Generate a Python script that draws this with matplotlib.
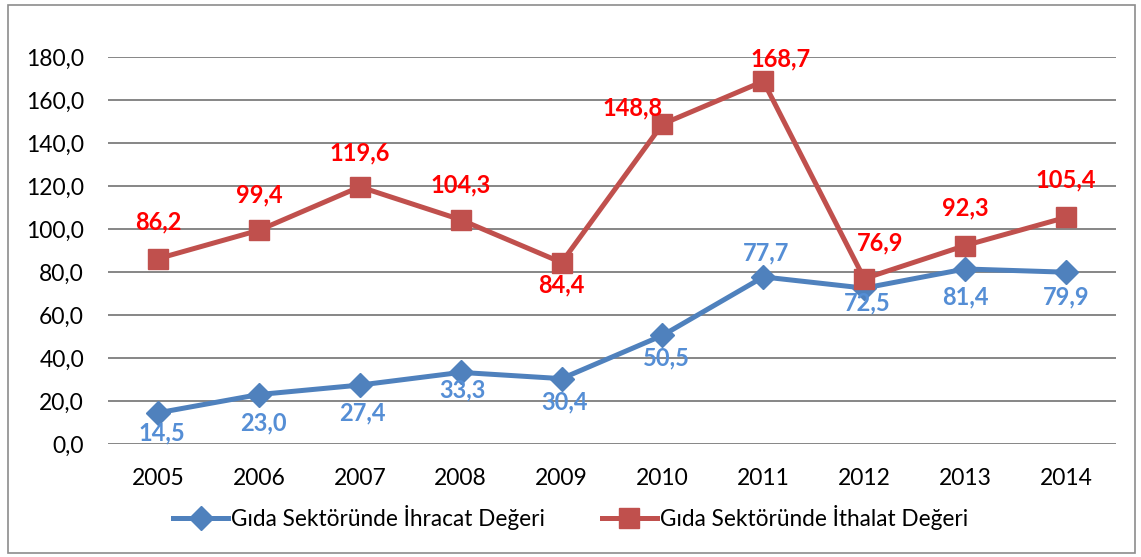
import matplotlib
matplotlib.use("Agg")
import matplotlib.pyplot as plt
from matplotlib.patches import Rectangle

# --- data ---------------------------------------------------------------
years = ["2005", "2006", "2007", "2008", "2009", "2010", "2011", "2012", "2013", "2014"]
ihracat = [14.5, 23.0, 27.4, 33.3, 30.4, 50.5, 77.7, 72.5, 81.4, 79.9]
ithalat = [86.2, 99.4, 119.6, 104.3, 84.4, 148.8, 168.7, 76.9, 92.3, 105.4]
y_ticks = [0, 20, 40, 60, 80, 100, 120, 140, 160, 180]

# label offsets in pixels (dx, dy)
ihr_off = [(4, -20), (5, -28), (3, -28), (2, -18), (3, -23),
           (4, -23), (3, 24), (3, -15), (0, -28), (0, -25)]
ith_off = [(0, 37), (0, 35), (0, 34), (0, 35), (0, -22),
           (-30, 16), (17, 22), (16, 36), (0, 38), (0, 37)]

BLUE, RED = "#4F81BD", "#C0504D"
BLUE_TXT, RED_TXT = "#558ED5", "#FF0000"

plt.rcParams["font.family"] = ["Lato", "DejaVu Sans"]

fig = plt.figure(figsize=(11.41, 5.57), dpi=100)
ax = fig.add_axes([0.0943, 0.2029, 0.8842, 0.6948])

x = range(len(years))
ax.plot(x, ihracat, color=BLUE, lw=3.6, marker="D", ms=12, label="Gıda Sektöründe İhracat Değeri",
        solid_joinstyle="round", zorder=3)
ax.plot(x, ithalat, color=RED, lw=3.6, marker="s", ms=14, label="Gıda Sektöründe İthalat Değeri",
        solid_joinstyle="round", zorder=3)

fmt = lambda v: f"{v:.1f}".replace(".", ",")
for i, v in enumerate(ihracat):
    dx, dy = ihr_off[i]
    ax.annotate(fmt(v), (i, v), xytext=(dx * 0.72, dy * 0.72), textcoords="offset points",
                ha="center", va="center", color=BLUE_TXT, fontsize=17, fontweight="bold", zorder=4)
for i, v in enumerate(ithalat):
    dx, dy = ith_off[i]
    ax.annotate(fmt(v), (i, v), xytext=(dx * 0.72, dy * 0.72), textcoords="offset points",
                ha="center", va="center", color=RED_TXT, fontsize=17, fontweight="bold", zorder=4)

ax.set_xlim(-0.5, len(years) - 0.5)
ax.set_ylim(0, 180)
ax.set_yticks(y_ticks)
ax.set_yticklabels([fmt(t) for t in y_ticks])
ax.set_xticks(list(x))
ax.set_xticklabels(years)
ax.tick_params(length=0, labelsize=16.5, colors="black")
ax.tick_params(axis="y", pad=17)
ax.tick_params(axis="x", pad=17)
ax.grid(axis="y", color="#868686", lw=1.4)
ax.set_axisbelow(True)
for s in ax.spines.values():
    s.set_visible(False)

fig.legend(loc="center", bbox_to_anchor=(0.5, 1 - 517 / 557), ncol=2, frameon=False,
           fontsize=16.3, handlelength=2.45, handletextpad=0.12, columnspacing=2.5)

fig.patches.append(Rectangle((8 / 1141, 4 / 557), 1127 / 1141, 548 / 557, transform=fig.transFigure,
                             fill=False, edgecolor="#8C8C8C", lw=1.2))

fig.savefig("out.png", dpi=100)
